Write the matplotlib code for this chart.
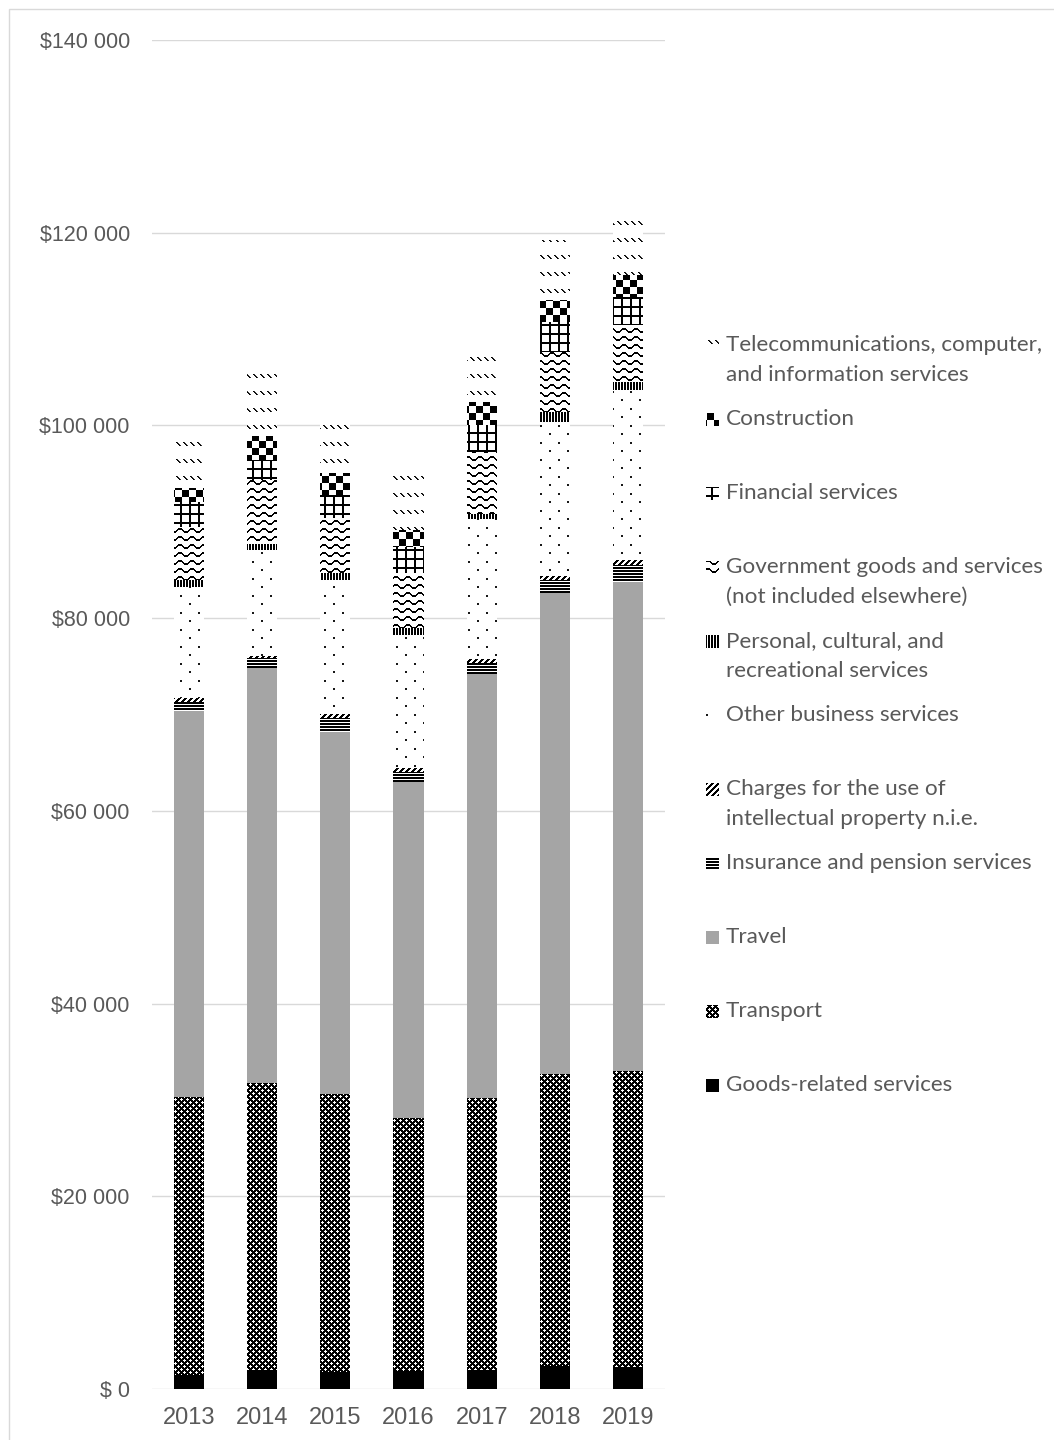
import numpy as np
import matplotlib
matplotlib.use("Agg")
import matplotlib.pyplot as plt
from matplotlib.patches import Rectangle

# values (stacked, bottom to top)
years = ["2013", "2014", "2015", "2016", "2017", "2018", "2019"]
goods = [1490, 2000, 1760, 1870, 1970, 2350, 2280]
transport = [28840, 29800, 28890, 26250, 28230, 30340, 30750]
travel = [40060, 42990, 37560, 34880, 44000, 49890, 50750]
insurance = [940, 1040, 1390, 1000, 1110, 1380, 1730]
ip_charges = [350, 270, 400, 400, 420, 410, 520]
other_business = [11580, 10970, 13960, 13850, 14520, 16010, 17640]
personal = [700, 620, 740, 690, 550, 1040, 860]
government = [5530, 6640, 5660, 5710, 6470, 6230, 5890]
financial = [2590, 2080, 2420, 2760, 2770, 3110, 2940]
construction = [1390, 2490, 2250, 1740, 2360, 2250, 2250]
telecom = [6030, 6800, 5370, 5880, 5400, 6230, 6050]

y_ticks = [0, 20000, 40000, 60000, 80000, 100000, 120000, 140000]
y_labels = ["$ 0", "$20 000", "$40 000", "$60 000", "$80 000", "$100 000", "$120 000", "$140 000"]

legend_labels = [
    "Telecommunications, computer,\nand information services",
    "Construction",
    "Financial services",
    "Government goods and services\n(not included elsewhere)",
    "Personal, cultural, and\nrecreational services",
    "Other business services",
    "Charges for the use of\nintellectual property n.i.e.",
    "Insurance and pension services",
    "Travel",
    "Transport",
    "Goods-related services",
]

# --- little bitmap fill patterns (1 = black) ---
def checker(n):
    t = np.zeros((2 * n, 2 * n))
    t[:n, :n] = 1
    t[n:, n:] = 1
    return t

t_transport = np.ones((6, 6))
for r, c in [(1, 1), (4, 4)]:
    t_transport[r, c] = 0
    t_transport[r - 1, c] = 0
    t_transport[(r + 1) % 6, c] = 0
    t_transport[r, c - 1] = 0
    t_transport[r, (c + 1) % 6] = 0

t_insurance = np.array([[1.0], [1.0], [0.0]])
t_ip = np.array([[1.0 if (r + c) % 6 < 3 else 0.0 for c in range(6)] for r in range(6)])
t_other = np.zeros((17, 18))
t_other[0:2, 0:2] = 0.9
t_other[8:10, 9:11] = 0.9
t_personal = np.array([[1.0, 1.0, 0.0]])
t_gov = np.zeros((8, 12))
for c, off in enumerate([0, 0, 1, 2, 3, 3, 3, 3, 2, 1, 0, 0]):
    t_gov[off, c] = 1
    t_gov[off + 1, c] = 1
t_fin = np.zeros((9, 9))
t_fin[0:2, :] = 1
t_fin[:, 0:2] = 1
t_constr = checker(7)
t_tele = np.zeros((17, 7))
for r in range(4):
    t_tele[r, r + 1] = 1
    t_tele[r, r + 2] = 0.8

series = [
    (goods, "#000000", np.array([[1.0]])),
    (transport, "white", t_transport),
    (travel, "#A5A5A5", np.array([[0.353]])),
    (insurance, "white", t_insurance),
    (ip_charges, "white", t_ip),
    (other_business, "white", t_other),
    (personal, "white", t_personal),
    (government, "white", t_gov),
    (financial, "white", t_fin),
    (construction, "white", t_constr),
    (telecom, "white", t_tele),
]

W, H = 1054, 1440
fig = plt.figure(figsize=(W / 100, H / 100), dpi=100)
ax = fig.add_axes([152 / W, (H - 1389) / H, 513 / W, 1349 / H])
ax.set_xlim(-0.5, 6.5)
ax.set_ylim(0, 140000)

x = np.arange(len(years))
bottom = np.zeros(len(years))


def paint(arr_tile, x0, y0, w, h, phase=(0, 0)):
    # lay the tile on the figure's pixel grid so patterns line up
    top = H - (y0 + h) + phase[0]
    rows = (np.arange(h) + top) % arr_tile.shape[0]
    cols = (np.arange(w) + x0 + phase[1]) % arr_tile.shape[1]
    img = arr_tile[np.ix_(rows, cols)]
    fig.figimage(img, xo=x0, yo=y0, cmap="gray_r", vmin=0, vmax=1, origin="upper", zorder=2)


for vals, color, tile in series:
    bars = ax.bar(x, vals, bottom=bottom, width=0.41, color=color, linewidth=0, zorder=2)
    if color == "white":
        for rect in bars:
            (px0, py0), (px1, py1) = ax.transData.transform(
                [(rect.get_x(), rect.get_y()), (rect.get_x() + rect.get_width(), rect.get_y() + rect.get_height())])
            x0, y0 = int(round(px0)), int(round(py0))
            w, h = int(round(px1)) - x0, int(round(py1)) - y0
            if h > 0:
                paint(tile, x0, y0, w, h)
    bottom += np.array(vals)

ax.set_yticks(y_ticks)
ax.set_yticklabels(y_labels)
ax.set_xticks(x)
ax.set_xticklabels(years)
ax.grid(axis="y", color="#D9D9D9", linewidth=1.0)
ax.set_axisbelow(True)
for s in ax.spines.values():
    s.set_visible(False)
ax.tick_params(length=0, colors="#595959", labelsize=15.5)
ax.tick_params(axis="x", labelsize=17, pad=13)
ax.tick_params(axis="y", pad=16)
for lab in ax.get_xticklabels() + ax.get_yticklabels():
    lab.set_family("Liberation Sans")

# legend on the right, top entry first
legend_tiles = [s[2] for s in series][::-1]
for i, (label, tile) in enumerate(zip(legend_labels, legend_tiles)):
    yc = 345 + 74 * i
    for k, line in enumerate(label.split("\n")):
        fig.text(726 / W, 1 - (yc + 30 * k) / H, line, va="center", ha="left",
                 fontsize=16.2, color="#595959", family="Lato")
    ph = (8, 5) if tile is t_other else (0, 0)
    paint(tile, 706, H - (yc + 7), 13, 13, phase=ph)

fig.patches.append(Rectangle((9 / W, -0.01), 1.1, 1 - 9 / H + 0.01, transform=fig.transFigure,
                             fill=False, edgecolor="#D9D9D9", linewidth=1))

fig.savefig("out.png", dpi=100)
